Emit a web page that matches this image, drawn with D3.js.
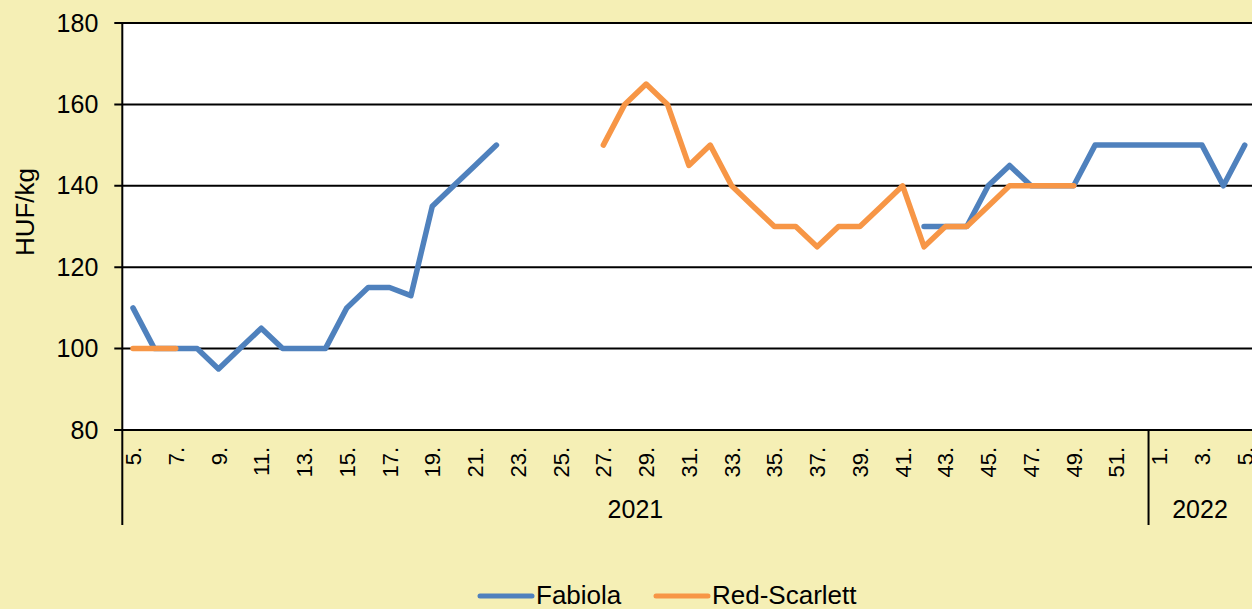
<!DOCTYPE html>
<html>
<head>
<meta charset="utf-8">
<script src="https://cdn.jsdelivr.net/npm/d3@7"></script>
<style>
  html, body { margin: 0; padding: 0; background: #f5efb5; }
  svg { display: block; font-family: "Liberation Sans", Arial, sans-serif; }
</style>
</head>
<body>
<div id="chart"></div>
<script>
// categories: weeks of 2021 and 2022
var weeks2021 = [5, 6, 7, 8, 9, 10, 11, 12, 13, 14, 15, 16, 17, 18, 19, 20, 21, 22, 23, 24, 25, 26, 27, 28,
  29, 30, 31, 32, 33, 34, 35, 36, 37, 38, 39, 40, 41, 42, 43, 44, 45, 46, 47, 48, 49, 50, 51, 52];
var weeks2022 = [1, 2, 3, 4, 5];

// HUF/kg, null = no quote
var fabiola = [110, 100, 100, 100, 95, 100, 105, 100, 100, 100, 110, 115, 115, 113, 135, 140, 145, 150,
  null, null, null, null, null, null, null, null, null, null, null, null, null, null, null, null, null, null, null,
  130, 130, 130, 140, 145, 140, 140, 140, 150, 150, 150,
  150, 150, 150, 140, 150];
var redScarlett = [100, 100, 100, null, null, null, null, null, null, null, null, null, null, null, null, null, null, null,
  null, null, null, null, 150, 160, 165, 160, 145, 150, 140, 135, 130, 130, 125, 130, 130, 135, 140,
  125, 130, 130, 135, 140, 140, 140, 140, null, null, null,
  null, null, null, null, null];

var yTicks = [80, 100, 120, 140, 160, 180];

var W = 1252, H = 609;
var margin = { left: 122.3, top: 23 },
  step = 21.38,
  plotBottom = 430;

// build category list
var cats = weeks2021.map(function (w) { return { year: 2021, week: w }; })
  .concat(weeks2022.map(function (w) { return { year: 2022, week: w }; }));
var keys = cats.map(function (c) { return c.year + '-' + c.week; });

var svg = d3.select('#chart').append('svg')
  .attr('width', W)
  .attr('height', H);

svg.append('rect').attr('width', W).attr('height', H).attr('fill', '#f5efb5');

var x = d3.scaleBand()
  .domain(keys)
  .range([margin.left, margin.left + keys.length * step]);

var y = d3.scaleLinear()
  .domain([80, 180])
  .range([plotBottom, margin.top]);

// plot area
svg.append('rect')
  .attr('x', margin.left)
  .attr('y', margin.top)
  .attr('width', W - margin.left)
  .attr('height', plotBottom - margin.top)
  .attr('fill', '#fff');

// gridlines
svg.append('g')
  .selectAll('line')
  .data(yTicks)
  .enter()
  .append('line')
  .attr('x1', margin.left - 8)
  .attr('x2', W)
  .attr('y1', function (d) { return y(d); })
  .attr('y2', function (d) { return y(d); })
  .attr('stroke', '#000')
  .attr('stroke-width', 2);

// y axis
var yAxis = svg.append('g')
  .attr('transform', 'translate(' + margin.left + ',0)')
  .call(d3.axisLeft(y).tickValues(yTicks).tickSize(8).tickPadding(16));
yAxis.select('.domain').remove();
yAxis.selectAll('line').remove();
yAxis.selectAll('text')
  .attr('font-size', 25)
  .attr('fill', '#000')
  .attr('font-family', '"Liberation Sans", Arial, sans-serif');

svg.append('line')
  .attr('x1', margin.left).attr('x2', margin.left)
  .attr('y1', margin.top).attr('y2', 525)
  .attr('stroke', '#000').attr('stroke-width', 2);

svg.append('text')
  .attr('transform', 'translate(34,212) rotate(-90)')
  .attr('text-anchor', 'middle')
  .attr('font-size', 26)
  .text('HUF/kg');

// x axis labels, every other week
var labelCats = cats.filter(function (c) { return c.week % 2 === 1; });
svg.append('g')
  .selectAll('text')
  .data(labelCats)
  .enter()
  .append('text')
  .attr('transform', function (c) {
    var cx = x(c.year + '-' + c.week) + x.bandwidth() / 2;
    return 'translate(' + (cx + 8) + ',447) rotate(-90)';
  })
  .attr('text-anchor', 'end')
  .attr('font-size', 22)
  .text(function (c) { return c.week + '.'; });

// year divider and labels
var divX = x('2022-1');
svg.append('line')
  .attr('x1', divX).attr('x2', divX)
  .attr('y1', plotBottom).attr('y2', 525)
  .attr('stroke', '#000').attr('stroke-width', 2);

svg.append('text')
  .attr('x', (margin.left + divX) / 2)
  .attr('y', 518)
  .attr('text-anchor', 'middle')
  .attr('font-size', 25)
  .text('2021');
svg.append('text')
  .attr('x', (divX + x.range()[1]) / 2 - 2)
  .attr('y', 518)
  .attr('text-anchor', 'middle')
  .attr('font-size', 25)
  .text('2022');

svg.append('line')
  .attr('x1', margin.left - 8).attr('x2', W)
  .attr('y1', plotBottom).attr('y2', plotBottom)
  .attr('stroke', '#000').attr('stroke-width', 2);

// series
var series = [
  { name: 'Fabiola', values: fabiola, color: '#4f81bd' },
  { name: 'Red-Scarlett', values: redScarlett, color: '#f79646' }
];

var line = d3.line()
  .defined(function (d) { return d != null; })
  .x(function (d, i) { return x(keys[i]) + x.bandwidth() / 2; })
  .y(function (d) { return y(d); });

svg.append('g')
  .selectAll('path')
  .data(series)
  .enter()
  .append('path')
  .attr('d', function (s) { return line(s.values); })
  .attr('fill', 'none')
  .attr('stroke', function (s) { return s.color; })
  .attr('stroke-width', 5.5)
  .attr('stroke-linecap', 'round')
  .attr('stroke-linejoin', 'round');

// legend
var legendPos = [478, 654];
var legend = svg.append('g')
  .selectAll('g')
  .data(series)
  .enter()
  .append('g')
  .attr('transform', function (s, i) { return 'translate(' + legendPos[i] + ',596)'; });
legend.append('line')
  .attr('x1', 2).attr('x2', 54)
  .attr('stroke', function (s) { return s.color; })
  .attr('stroke-width', 5)
  .attr('stroke-linecap', 'round');
legend.append('text')
  .attr('x', 58)
  .attr('y', 8)
  .attr('font-size', 26)
  .text(function (s) { return s.name; });
</script>
</body>
</html>
